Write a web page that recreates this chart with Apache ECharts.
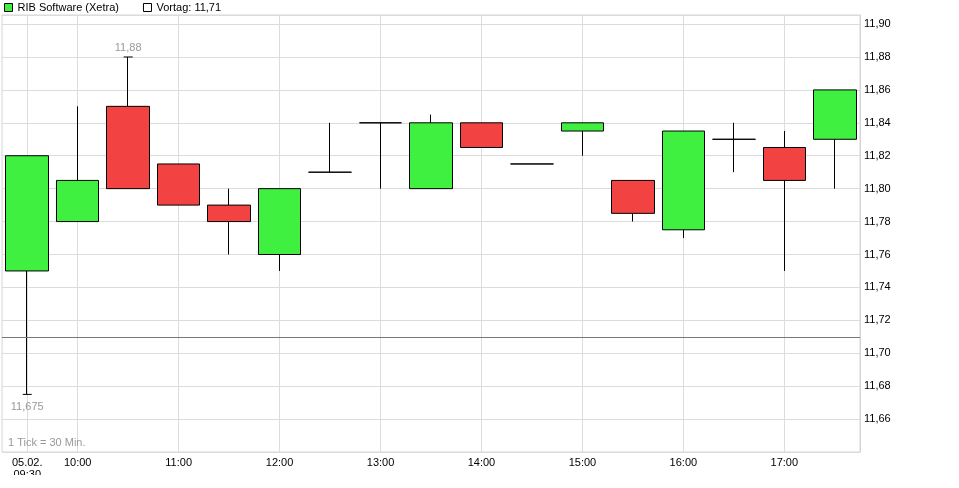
<!DOCTYPE html>
<html><head><meta charset="utf-8">
<script src="https://cdn.jsdelivr.net/npm/echarts@6/dist/echarts.min.js"></script>
<style>html,body{margin:0;padding:0;background:#fff}#c{width:959px;height:488px}</style>
</head><body><div id="c"></div>
<script>
const categories = ['09:30','10:00','10:30','11:00','11:30','12:00','12:30','13:00','13:30','14:00','14:30','15:00','15:30','16:00','16:30','17:00','17:30'];
const tickLabels = ['05.02.\n09:30','10:00','','11:00','','12:00','','13:00','','14:00','','15:00','','16:00','','17:00',''];
const opens  = [11.75, 11.78, 11.85, 11.815, 11.79, 11.76, 11.81, 11.84, 11.80, 11.84, 11.815, 11.835, 11.805, 11.775, 11.83, 11.825, 11.83];
const closes = [11.82, 11.805, 11.80, 11.79, 11.78, 11.80, 11.81, 11.84, 11.84, 11.825, 11.815, 11.84, 11.785, 11.835, 11.83, 11.805, 11.86];
const lows   = [11.675, 11.78, 11.80, 11.79, 11.76, 11.75, 11.81, 11.80, 11.80, 11.825, 11.815, 11.82, 11.78, 11.77, 11.81, 11.75, 11.80];
const highs  = [11.82, 11.85, 11.88, 11.815, 11.80, 11.80, 11.84, 11.84, 11.845, 11.84, 11.815, 11.84, 11.805, 11.835, 11.84, 11.835, 11.86];
const prevClose = 11.71;
const seriesName = 'RIB Software (Xetra)';
const prevName = 'Vortag: 11,71';
const tickNote = '1 Tick = 30 Min.';

const FONT = '"Liberation Sans", Arial, sans-serif';
const fmt = v => String(v).replace('.', ',');
const candleData = categories.map((c, i) => [opens[i], closes[i], lows[i], highs[i]]);
const hourIdx = i => i === 0 || i % 2 === 1;

const chart = echarts.init(document.getElementById('c'), null, {renderer: 'canvas'});
chart.setOption({
  animation: false,
  backgroundColor: '#fff',
  textStyle: {fontFamily: FONT},
  legend: {
    left: 4, top: 2, padding: 0, itemWidth: 8, itemHeight: 8, itemGap: 24, selectedMode: false,
    textStyle: {fontSize: 11, color: '#000', fontFamily: FONT},
    data: [
      {name: seriesName, icon: 'rect', itemStyle: {color: '#40f040', borderColor: '#000', borderWidth: 1}},
      {name: prevName, icon: 'rect', itemStyle: {color: '#fff', borderColor: '#000', borderWidth: 1}}
    ]
  },
  grid: {left: 2, right: 99, top: 15, bottom: 36, show: true, borderColor: '#d4d4d4', borderWidth: 1, containLabel: false, outerBoundsMode: 'none'},
  xAxis: {
    type: 'category', data: categories, boundaryGap: true,
    axisLine: {show: false}, axisTick: {show: false},
    axisLabel: {interval: 0, margin: 5, color: '#000', fontSize: 11, fontFamily: FONT, lineHeight: 12,
      formatter: (v, i) => tickLabels[i]},
    splitLine: {show: true, alignWithLabel: true, interval: hourIdx, lineStyle: {color: '#dcdcdc', width: 1}}
  },
  yAxis: {
    type: 'value', position: 'right', min: 11.64, max: 11.9055, interval: 0.02, scale: true,
    axisLine: {show: true, lineStyle: {color: '#d4d4d4'}}, axisTick: {show: false},
    axisLabel: {color: '#000', fontSize: 11, fontFamily: FONT, margin: 4,
      formatter: v => (v < 11.65 || v > 11.901) ? '' : v.toFixed(2).replace('.', ',')},
    splitLine: {show: true, lineStyle: {color: '#dcdcdc', width: 1}}
  },
  graphic: [
    {type: 'text', left: 8, top: 437, z: 5, style: {text: tickNote, fill: '#999', font: '11px ' + FONT}},
    {type: 'rect', left: 0, top: 475, z: 100, shape: {width: 959, height: 13}, style: {fill: '#fff'}}
  ],
  series: [
    {
      name: seriesName, type: 'candlestick', data: candleData, barWidth: 43,
      itemStyle: {color: '#40f040', color0: '#f34242', borderColor: '#000', borderColor0: '#000', borderColorDoji: '#000', borderWidth: 1},
      markPoint: {
        silent: true, symbol: 'rect', symbolSize: [9, 1], itemStyle: {color: '#000'},
        label: {show: true, color: '#999', fontSize: 11, fontFamily: FONT},
        data: [
          {type: 'max', valueDim: 'highest', label: {position: 'top', distance: 3, formatter: p => fmt(p.value)}},
          {type: 'min', valueDim: 'lowest', label: {position: 'bottom', distance: 7, formatter: p => fmt(p.value)}}
        ]
      }
    },
    {
      name: prevName, type: 'line', data: [], itemStyle: {color: '#fff'},
      markLine: {silent: true, symbol: 'none', label: {show: false}, lineStyle: {color: '#777', width: 1, type: 'solid'},
        data: [{yAxis: prevClose}]}
    }
  ]
});
</script></body></html>
